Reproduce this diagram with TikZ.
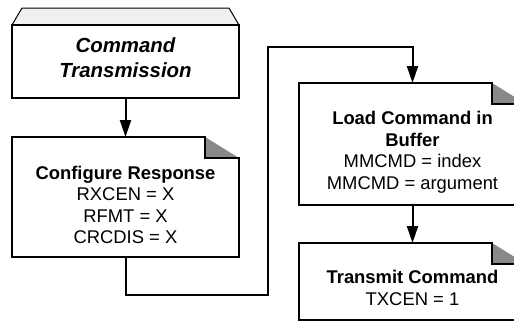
\documentclass[tikz,border=0pt]{standalone}
\usepackage{fontspec}
\setmainfont{Liberation Sans}
\usetikzlibrary{arrows.meta}

\definecolor{foldgray}{HTML}{888888}
\definecolor{lidgray}{HTML}{F0F0F0}

% outline of a box with a folded top right corner
\newcommand{\foldbox}[1]{%
  \fill[foldgray] ([xshift=-17pt]#1.north east) -- ([xshift=-17pt,yshift=-10.5pt]#1.north east) -- ([yshift=-10.5pt]#1.north east) -- cycle;
  \draw[outline] ([yshift=-10.5pt]#1.north east) -- ([xshift=-17pt,yshift=-10.5pt]#1.north east) -- ([xshift=-17pt]#1.north east) -- (#1.north west) -- (#1.south west) -- (#1.south east) -- cycle;
}

\begin{document}
\begin{tikzpicture}[x=0.5pt, y=-0.5pt,
    outline/.style={line width=1pt, line join=miter},
    box/.style={minimum width=113.5pt, outer sep=0pt, inner sep=0pt},
    flow/.style={line width=1pt, -{Triangle[length=8.5pt, width=5.5pt]}},
    every node/.style={align=center, font=\fontsize{9.2}{10.75}\selectfont}]
  \clip (0,0) rectangle (514,322);

  % Boxes
  \node[box, minimum height=36.5pt] (cmd) at (125.5,61.5) {};
  \node[box, minimum height=60pt] (cfg) at (125.5,197) {};
  \node[box, minimum height=61pt] (load) at (412.5,144) {};
  \node[box, minimum height=38.5pt] (txc) at (412.5,281.5) {};

  % Start box with its lid
  \filldraw[lidgray, draw=black, line width=0.5pt] (cmd.north west) -- ([shift={(10,-17)}]cmd.north west) -- ([shift={(-10,-17)}]cmd.north east) -- (cmd.north east) -- cycle;
  \draw[outline] (cmd.north west) rectangle (cmd.south east);
  \foldbox{cfg}
  \foldbox{load}
  \foldbox{txc}

  % Texts
  \node[font=\fontsize{10.2}{12.5}\selectfont\bfseries\itshape] (cmdtext) at (125.5,57.5) {Command\\Transmission};
  \node[text depth=0pt] (cfgtext) at (125.5,205) {\textbf{Configure Response}\\RXCEN = X\\RFMT = X\\CRCDIS = X};
  \node[text depth=0pt] (loadtext) at (412.5,150.5) {\textbf{Load Command in}\\\textbf{Buffer}\\MMCMD = index\\MMCMD = argument};
  \node[text depth=0pt] (txctext) at (412.5,288) {\textbf{Transmit Command}\\TXCEN = 1};

  % Connectors
  \coordinate (low) at (268,295);
  \coordinate (high) at (268,47);
  \draw[flow] (cmd.south) -- (cfg.north);
  \draw[flow] (cfg.south) |- (low) -- (high) -| (load.north);
  \draw[flow] (load.south) -- (txc.north);
\end{tikzpicture}
\end{document}
